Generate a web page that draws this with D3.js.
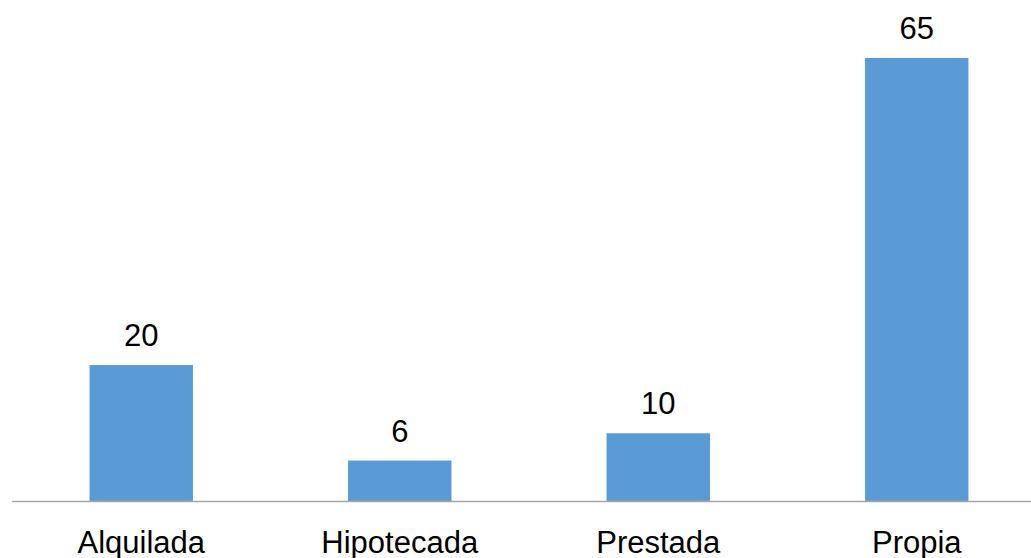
<!DOCTYPE html>
<html>
<head>
<meta charset="utf-8">
<script src="https://cdn.jsdelivr.net/npm/d3@7"></script>
<style>
  body { margin: 0; background: #fff; }
  svg text { font-family: "Liberation Sans", Arial, sans-serif; fill: #000; }
</style>
</head>
<body>
<div id="chart"></div>
<script>
// chart data
const categories = ["Alquilada", "Hipotecada", "Prestada", "Propia"];
const values = [20, 6, 10, 65];

const width = 1031, height = 558;
const baseY = 501.5;

const svg = d3.select('#chart').append('svg')
	.attr('width', width)
	.attr('height', height);

const xScale = d3.scaleBand()
	.domain(categories)
	.range([12, 1046])
	.paddingInner(0.6)
	.paddingOuter(0.3);

const yScale = d3.scaleLinear()
	.domain([0, 65])
	.range([baseY, 58]);

// bars
svg.selectAll('rect')
	.data(values)
	.enter()
  .append('rect')
	.attr('x', (d, i) => xScale(categories[i]))
	.attr('y', d => yScale(d))
	.attr('width', xScale.bandwidth())
	.attr('height', d => baseY - yScale(d))
	.attr('fill', '#5B9BD5');

// value labels
svg.selectAll('.value')
	.data(values)
	.enter()
  .append('text')
	.attr('class', 'value')
	.attr('x', (d, i) => xScale(categories[i]) + xScale.bandwidth() / 2)
	.attr('y', d => yScale(d) - 19)
	.attr('text-anchor', 'middle')
	.style('font-size', '31px')
	.text(d => d);

// x axis
const xAxis = d3.axisBottom(xScale).tickSize(0).tickPadding(0);
const xAxisGroup = svg.append('g')
	.attr('class', 'axis x-axis')
	.attr('transform', `translate(0, ${baseY})`)
	.call(xAxis);
xAxisGroup.select('.domain').remove();
xAxisGroup.selectAll('text')
	.attr('dy', null)
	.attr('y', 51)
	.style('font-size', '31px')
	.attr('fill', '#000');

svg.append('line')
	.attr('x1', 12).attr('x2', width)
	.attr('y1', baseY).attr('y2', baseY)
	.attr('stroke', '#A6A6A6')
	.attr('stroke-width', 1.5);
</script>
</body>
</html>
